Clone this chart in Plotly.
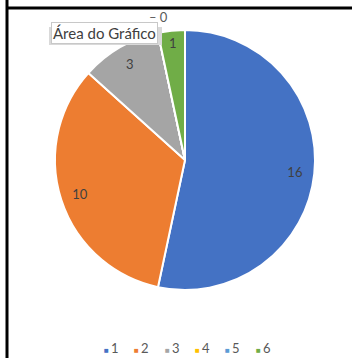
import plotly.graph_objects as go

W, H = 352, 358
LABELS = ['1', '2', '3', '4', '5', '6']
VALUES = [16, 10, 3, 0, 0, 1]
COLORS = ['#4472C4', '#ED7D31', '#A5A5A5', '#FFC000', '#5B9BD5', '#70AD47']
# zero slices get no in-pie label; their "0" sits above the pie
TXT_POS = ['inside' if v else 'none' for v in VALUES]
FONT = 'Lato, Open Sans, sans-serif'


def px(x):
    return x / W


def py(y):
    return 1 - y / H


# pie occupies a 260 px square centred at (185, 160)
DOM = dict(x=[px(55), px(315)], y=[py(290), py(30)])

fig = go.Figure()
# coloured slices -------------------------------------------------------------
fig.add_trace(go.Pie(
    labels=LABELS, values=VALUES, sort=False, direction='clockwise',
    rotation=0, domain=DOM, textinfo='none', hoverinfo='label+value',
    marker=dict(colors=COLORS, line=dict(color='white', width=2)),
    showlegend=False
))
# transparent ring only used to place the value labels near the rim ----------
fig.add_trace(go.Pie(
    labels=LABELS, values=VALUES, sort=False, direction='clockwise',
    rotation=0, domain=DOM, hole=0.7, textinfo='value',
    textposition=TXT_POS, insidetextorientation='horizontal',
    textfont=dict(family=FONT, size=13, color='#404040'),
    marker=dict(colors=['rgba(0,0,0,0)'] * 6, line=dict(width=0)),
    hoverinfo='skip', showlegend=False
))

ann = []
# labels of the empty slices (overlapping, Excel style) -----------------------
zeros = [v for v in VALUES if v == 0]
ann.append(dict(
    x=px(158), y=py(17.5), xref='paper', yref='paper',
    xanchor='center', yanchor='middle', showarrow=False,
    text='\u2013 ' + str(zeros[-1]),
    font=dict(family=FONT, size=13, color='#595959')
))
# legend built as text --------------------------------------------------------
for i, (lab, col) in enumerate(zip(LABELS, COLORS)):
    ann.append(dict(
        x=px(102 + i * 30.3), y=py(348), xref='paper', yref='paper',
        xanchor='left', yanchor='middle', showarrow=False,
        text='<span style="color:{};font-size:8px">\u25A0\u00a0</span>{}'.format(col, lab),
        font=dict(family=FONT, size=13, color='#595959')
    ))
# hover tooltip of the screenshot ---------------------------------------------
ann.append(dict(
    x=px(104), y=py(33), xref='paper', yref='paper',
    xanchor='center', yanchor='middle', showarrow=False,
    text='Área do Gráfico', bgcolor='white', bordercolor='#C8C8C8',
    borderwidth=1, borderpad=1,
    font=dict(family=FONT, size=15, color='#404040')
))

fig.update_layout(
    width=W, height=H, margin=dict(l=0, r=0, t=0, b=0),
    paper_bgcolor='white', plot_bgcolor='white',
    annotations=ann,
    shapes=[
        # tooltip shadow
        dict(type='rect', xref='paper', yref='paper', x0=px(49), x1=px(162),
             y0=py(45), y1=py(27), fillcolor='#D9D9D9', line=dict(width=0),
             layer='above'),
        dict(type='line', xref='paper', yref='paper', x0=px(7), x1=px(7),
             y0=0, y1=1, line=dict(color='black', width=3)),
        dict(type='line', xref='paper', yref='paper', x0=px(7), x1=1,
             y0=py(8), y1=py(8), line=dict(color='black', width=3)),
    ]
)
fig.write_html('out.html', config={'displayModeBar': False},
               post_script="document.body.style.margin='0';")
